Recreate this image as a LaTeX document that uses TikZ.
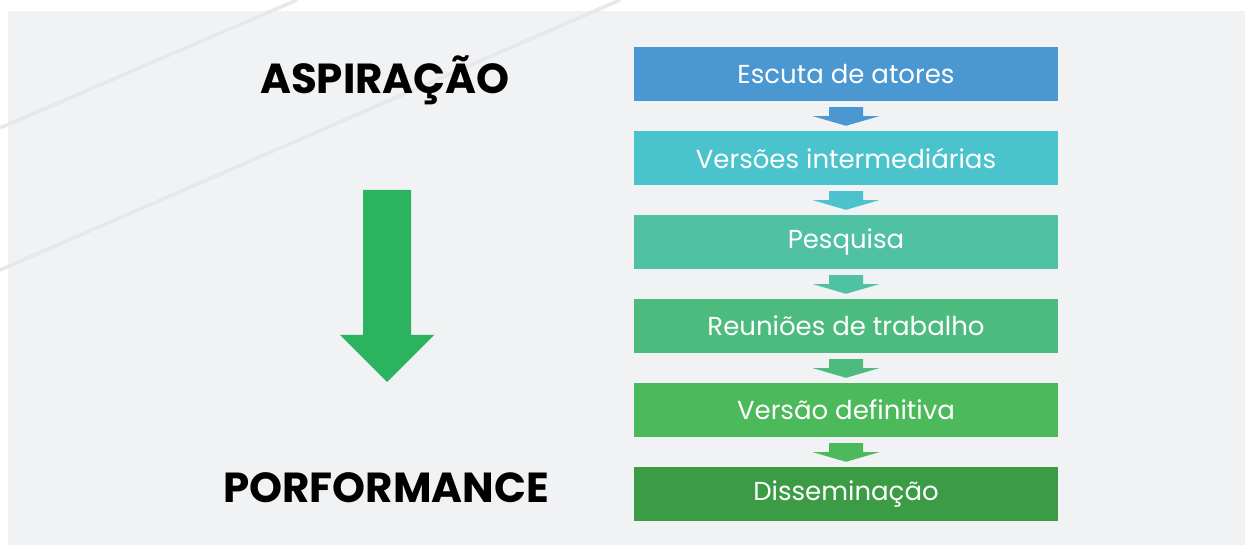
\documentclass[tikz,border=0pt]{standalone}
\usepackage{fontspec}
\setmainfont{Poppins}
\begin{document}
\begin{tikzpicture}[x=1pt,y=-1pt,
  boxstyle/.style={minimum width=424pt,minimum height=54pt,inner sep=0pt,text=white,font=\fontsize{26}{28}\selectfont},
  title/.style={font=\fontsize{42}{46}\selectfont\bfseries,text=black,inner sep=0pt}]
\definecolor{bgpanel}{HTML}{F1F2F4}
\definecolor{diag}{HTML}{E6E8EB}
\definecolor{cA}{HTML}{4A97D2}
\definecolor{cB}{HTML}{4BC3CC}
\definecolor{cC}{HTML}{50C1A2}
\definecolor{cD}{HTML}{4CBB7D}
\definecolor{cE}{HTML}{4CB95B}
\definecolor{cF}{HTML}{3B9C45}
\definecolor{bigarrow}{HTML}{2BB35F}
\useasboundingbox (0,0) rectangle (1245,545);
\fill[white] (0,0) rectangle (1245,545);
\fill[bgpanel] (8,11) rectangle (1245,545);
\draw[diag,line width=3.5pt] (297,0) -- (0,128);
\draw[diag,line width=3.5pt] (620,0) -- (0,270);
% boxes
\foreach \n/\c/\t [count=\i from 0] in {b1/cA/Escuta de atores,b2/cB/Versões intermediárias,b3/cC/Pesquisa,b4/cD/Reuniões de trabalho,b5/cE/Versão definitiva,b6/cF/Disseminação}{
  \node[boxstyle,fill=\c] (\n) at (846,74+84*\i) {\raisebox{-2pt}{\t}};
}
% small arrows
\foreach \a/\b/\c in {b1/b2/cA,b2/b3/cB,b3/b4/cC,b4/b5/cD,b5/b6/cE}{
  \fill[\c] ([xshift=-17pt,yshift=-6pt]\a.south) -- ([xshift=17pt,yshift=-6pt]\a.south)
     -- ([xshift=17pt,yshift=-15pt]\a.south) -- ([xshift=33pt,yshift=-15pt]\a.south)
     -- ([yshift=5pt]\b.north) -- ([xshift=-33pt,yshift=-15pt]\a.south)
     -- ([xshift=-17pt,yshift=-15pt]\a.south) -- cycle;
}
% titles
\node[title] (asp) at (385,80) {ASPIRAÇÃO};
\node[title] (perf) at (386,488) {PORFORMANCE};
% big arrow
\coordinate (top) at (387,190);
\coordinate (tip) at (387,382);
\fill[bigarrow] ([xshift=-24pt]top) -- ([xshift=24pt]top) -- ([xshift=24pt,yshift=47pt]tip)
  -- ([xshift=47pt,yshift=47pt]tip) -- (tip) -- ([xshift=-47pt,yshift=47pt]tip)
  -- ([xshift=-24pt,yshift=47pt]tip) -- cycle;
\end{tikzpicture}
\end{document}
